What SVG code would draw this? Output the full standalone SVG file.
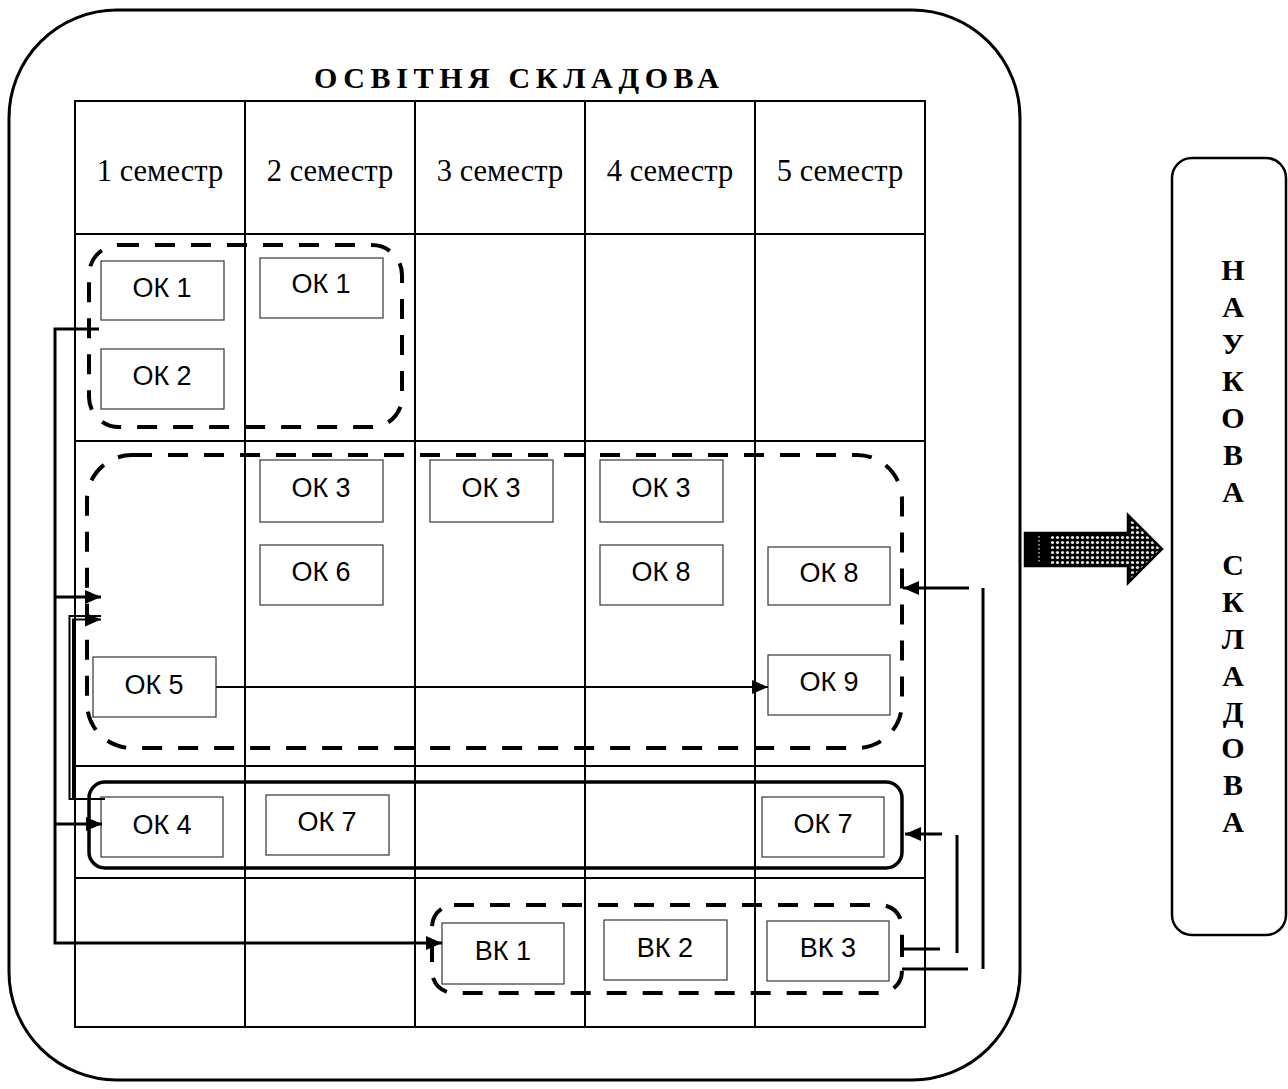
<svg xmlns="http://www.w3.org/2000/svg" width="1288" height="1089" viewBox="0 0 1288 1089">
<style>
.grid{stroke:#000;stroke-width:2;fill:none}
.ok{fill:#fff;stroke:#444;stroke-width:1.3}
.lbl{font-family:"Liberation Sans",Arial,sans-serif;font-size:27px;text-anchor:middle;fill:#000}
.sem{font-family:"Liberation Serif","Times New Roman",serif;font-size:30.5px;text-anchor:middle;fill:#000}
.dash{fill:none;stroke:#000;stroke-width:4;stroke-dasharray:20 16}
.conn{fill:none;stroke:#000;stroke-width:3}
.thin{fill:none;stroke:#000;stroke-width:2}
.vt{font-family:"Liberation Serif","Times New Roman",serif;font-size:30px;font-weight:bold;text-anchor:middle;fill:#000}
</style>
<defs>
<marker id="ah" viewBox="0 0 16 14" refX="16" refY="7" markerWidth="16" markerHeight="14" markerUnits="userSpaceOnUse" orient="auto">
<path d="M0,0 L16,7 L0,14 Z" fill="#000"/>
</marker>
<pattern id="dots" width="5" height="5" patternUnits="userSpaceOnUse">
<rect width="5" height="5" fill="#000"/>
<circle cx="2.5" cy="2.5" r="1.6" fill="#e6e6e6"/>
</pattern>
</defs>
<rect width="1288" height="1089" fill="#fff"/>

<g id="outer">
<rect x="9" y="10" width="1011" height="1070" rx="108" ry="108" fill="none" stroke="#000" stroke-width="3"/>
<text x="314" y="88" textLength="405" lengthAdjust="spacing" style="font-family:'Liberation Serif','Times New Roman',serif;font-size:30px;font-weight:bold;fill:#000">ОСВІТНЯ СКЛАДОВА</text>
</g>

<g id="table">
<rect x="75" y="101" width="850" height="926" class="grid"/>
<line x1="245" y1="101" x2="245" y2="1027" class="grid"/>
<line x1="415" y1="101" x2="415" y2="1027" class="grid"/>
<line x1="585" y1="101" x2="585" y2="1027" class="grid"/>
<line x1="755" y1="101" x2="755" y2="1027" class="grid"/>
<line x1="75" y1="234" x2="925" y2="234" class="grid"/>
<line x1="75" y1="441" x2="925" y2="441" class="grid"/>
<line x1="75" y1="766" x2="925" y2="766" class="grid"/>
<line x1="75" y1="878" x2="925" y2="878" class="grid"/>
<text x="160" y="181" class="sem">1 семестр</text>
<text x="330" y="181" class="sem">2 семестр</text>
<text x="500" y="181" class="sem">3 семестр</text>
<text x="670" y="181" class="sem">4 семестр</text>
<text x="840" y="181" class="sem">5 семестр</text>
</g>

<g id="groups">
<rect x="89" y="245" width="313" height="182" rx="30" class="dash"/>
<rect x="87" y="455" width="815" height="293" rx="45" class="dash"/>
<rect x="89" y="782" width="813" height="86" rx="16" fill="none" stroke="#000" stroke-width="3.5"/>
<rect x="432" y="905" width="470" height="88" rx="22" class="dash"/>
</g>

<g id="ok1a"><rect x="101" y="261" width="123" height="59" class="ok"/><text x="162" y="297" class="lbl">ОК 1</text></g>
<g id="ok1b"><rect x="260" y="258" width="123" height="60" class="ok"/><text x="321" y="293" class="lbl">ОК 1</text></g>
<g id="ok2"><rect x="101" y="349" width="123" height="60" class="ok"/><text x="162" y="385" class="lbl">ОК 2</text></g>
<g id="ok3a"><rect x="260" y="460" width="123" height="62" class="ok"/><text x="321" y="497" class="lbl">ОК 3</text></g>
<g id="ok3b"><rect x="430" y="460" width="123" height="62" class="ok"/><text x="491" y="497" class="lbl">ОК 3</text></g>
<g id="ok3c"><rect x="600" y="460" width="123" height="62" class="ok"/><text x="661" y="497" class="lbl">ОК 3</text></g>
<g id="ok6"><rect x="260" y="545" width="123" height="60" class="ok"/><text x="321" y="581" class="lbl">ОК 6</text></g>
<g id="ok8a"><rect x="600" y="545" width="123" height="60" class="ok"/><text x="661" y="581" class="lbl">ОК 8</text></g>
<g id="ok8b"><rect x="768" y="547" width="122" height="58" class="ok"/><text x="829" y="582" class="lbl">ОК 8</text></g>
<g id="ok5"><rect x="93" y="657" width="123" height="60" class="ok"/><text x="154" y="694" class="lbl">ОК 5</text></g>
<g id="ok9"><rect x="768" y="655" width="122" height="60" class="ok"/><text x="829" y="691" class="lbl">ОК 9</text></g>
<g id="ok4"><rect x="101" y="797" width="122" height="60" class="ok"/><text x="162" y="834" class="lbl">ОК 4</text></g>
<g id="ok7a"><rect x="266" y="795" width="123" height="60" class="ok"/><text x="327" y="831" class="lbl">ОК 7</text></g>
<g id="ok7b"><rect x="762" y="797" width="122" height="60" class="ok"/><text x="823" y="833" class="lbl">ОК 7</text></g>
<g id="vk1"><rect x="442" y="923" width="122" height="61" class="ok"/><text x="503" y="960" class="lbl">ВК 1</text></g>
<g id="vk2"><rect x="604" y="920" width="123" height="60" class="ok"/><text x="665" y="957" class="lbl">ВК 2</text></g>
<g id="vk3"><rect x="767" y="921" width="122" height="60" class="ok"/><text x="828" y="957" class="lbl">ВК 3</text></g>

<g id="connectors">
<path d="M99,329 H55 V943 H442" class="conn" marker-end="url(#ah)"/>
<path d="M55,597 H101" class="conn" marker-end="url(#ah)"/>
<path d="M55,824 H102" class="conn" marker-end="url(#ah)"/>
<path d="M101,616 H69.5 V799 H105" class="thin"/>
<path d="M73,799 V619.5 H101" class="thin" marker-end="url(#ah)"/>
<path d="M216,687 H768" class="thin" stroke-width="2.5" marker-end="url(#ah)"/>
<path d="M969,588 H903" class="conn" marker-end="url(#ah)"/>
<path d="M983,588 V969" class="conn"/>
<path d="M902,969 H968" class="conn"/>
<path d="M942,834 H905" class="conn" marker-end="url(#ah)"/>
<path d="M957,835 V953" class="conn"/>
<path d="M903,949 H940" class="conn"/>
<path d="M902,941 V957" stroke="#000" stroke-width="4"/>
</g>

<g id="bigarrow">
<path d="M1025,533 H1128 V515 L1162,549 L1128,583 V566 H1025 Z" fill="url(#dots)" stroke="#000" stroke-width="2.5"/>
<rect x="1025" y="533" width="24" height="33" fill="#000"/>
<line x1="1039" y1="536" x2="1039" y2="563" stroke="#bbb" stroke-width="1.5" stroke-dasharray="1.5 2.5"/>
</g>

<g id="science">
<rect x="1172" y="158" width="114" height="777" rx="20" fill="none" stroke="#000" stroke-width="2.5"/>
<text class="vt"><tspan x="1233" y="280">Н</tspan><tspan x="1233" y="317">А</tspan><tspan x="1233" y="354">У</tspan><tspan x="1233" y="391">К</tspan><tspan x="1233" y="428">О</tspan><tspan x="1233" y="465">В</tspan><tspan x="1233" y="502">А</tspan><tspan x="1233" y="575">С</tspan><tspan x="1233" y="612">К</tspan><tspan x="1233" y="649">Л</tspan><tspan x="1233" y="686">А</tspan><tspan x="1233" y="722">Д</tspan><tspan x="1233" y="758">О</tspan><tspan x="1233" y="795">В</tspan><tspan x="1233" y="832">А</tspan></text>
</g>
</svg>
